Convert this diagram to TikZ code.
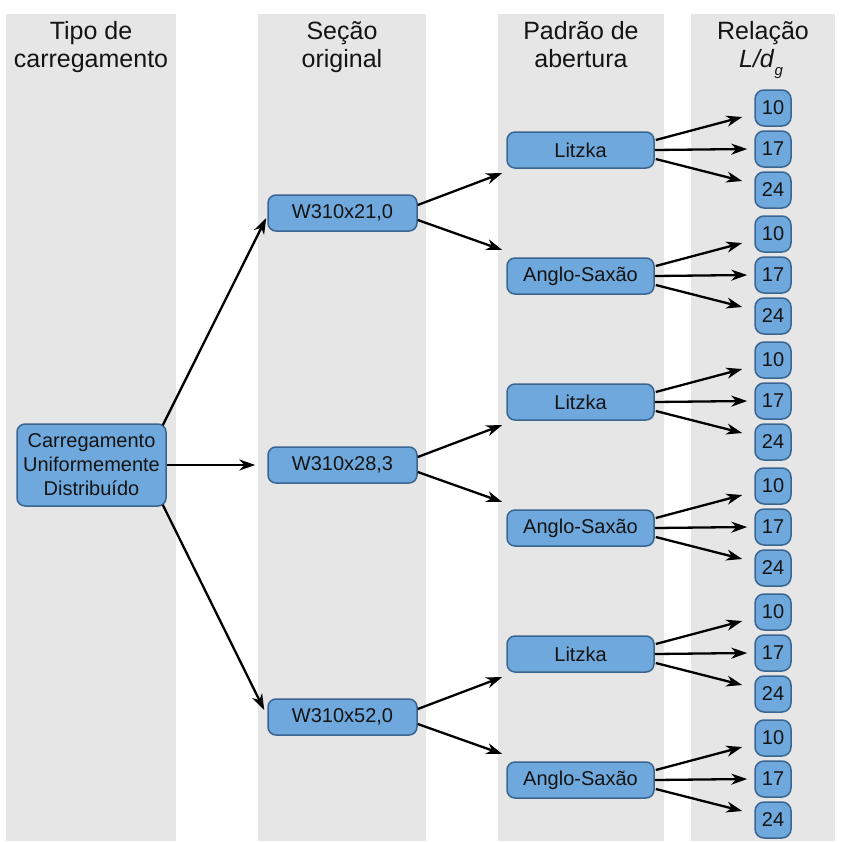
\documentclass[tikz,border=0pt]{standalone}
\usepackage{fontspec}
\setmainfont{Liberation Sans}
\usetikzlibrary{arrows.meta,calc}
\definecolor{colbg}{HTML}{E6E6E6}
\definecolor{boxfill}{HTML}{6FA8DC}
\definecolor{boxedge}{HTML}{3A6590}
\definecolor{ink}{HTML}{141414}

\begin{document}
\begin{tikzpicture}[x=1pt,y=-1pt,
  box/.style={draw=boxedge, fill=boxfill, line width=1.5pt, rounded corners=8pt,
    inner sep=0pt, minimum width=147pt, minimum height=36pt,
    font=\fontsize{20}{24}\selectfont, text=ink, align=center},
  numbox/.style={box, minimum width=36pt, rounded corners=9pt},
  head/.style={anchor=base, font=\fontsize{25}{29}\selectfont, text=ink},
  arr/.style={-{Stealth[length=16pt,width=11pt,inset=5pt]}, line width=2.3pt, draw=black}
]
\useasboundingbox (0,0) rectangle (846,841);

% column backgrounds
\fill[colbg] (6,14) rectangle (176,841);
\fill[colbg] (258,14) rectangle (426,841);
\fill[colbg] (498,14) rectangle (664,841);
\fill[colbg] (691,14) rectangle (835,841);

% column headings
\node[head] (h1a) at (91,39) {Tipo de};
\node[head] (h1b) at (91,67) {carregamento};
\node[head] (h2a) at (342,39) {Seção};
\node[head] (h2b) at (342,67) {original};
\node[head] (h3a) at (581,39) {Padrão de};
\node[head] (h3b) at (581,67) {abertura};
\node[head] (h4a) at (763,39) {Relação};
\node[head] (h4b) at (761,67) {\textit{L/d}\raisebox{-0.32em}{\fontsize{15}{15}\selectfont\textit{g}}};

% load type
\node[box, minimum width=149pt, minimum height=82pt] (c) at (91.5,465)
  {Carregamento\\Uniformemente\\Distribuído};

% original sections
\node[box, minimum width=149pt] (w1) at (342.5,213) {W310x21,0};
\node[box, minimum width=149pt] (w2) at (342.5,465) {W310x28,3};
\node[box, minimum width=149pt] (w3) at (342.5,717) {W310x52,0};

% opening patterns
\node[box] (p1) at (580.5,150) {Litzka};
\node[box] (p2) at (580.5,276) {Anglo-Saxão};
\node[box] (p3) at (580.5,402) {Litzka};
\node[box] (p4) at (580.5,528) {Anglo-Saxão};
\node[box] (p5) at (580.5,654) {Litzka};
\node[box] (p6) at (580.5,780) {Anglo-Saxão};

% L/dg ratios and their arrows
\foreach \i in {1,...,6} {
  \path (p\i) ++(192.5,-42) node[numbox] (n\i-a) {10};
  \path (p\i) ++(192.5,-1)  node[numbox] (n\i-b) {17};
  \path (p\i) ++(192.5,40)  node[numbox] (n\i-c) {24};
  \draw[arr] ($(p\i.east)+(1,-10)$) -- ($(n\i-a.west)+(-12,9)$);
  \draw[arr] (p\i.east) -- ($(n\i-b.west)+(-7,0)$);
  \draw[arr] ($(p\i.east)+(1,9)$) -- ($(n\i-c.west)+(-12,-9)$);
}

% sections to patterns
\foreach \w/\a/\b in {w1/p1/p2, w2/p3/p4, w3/p5/p6} {
  \draw[arr] ($(\w.east)+(0,-8)$) -- ($(\a.west)+(-4,23)$);
  \draw[arr] ($(\w.east)+(0,7)$) -- ($(\b.west)+(-4,-26)$);
}

% load type to sections
\draw[arr] ($(c.north east)+(-4,2)$) -- ($(w1.west)+(-1,5)$);
\draw[arr] (c.east) -- ($(w2.west)+(-12,0)$);
\draw[arr] ($(c.south east)+(-4,-2)$) -- ($(w3.west)+(-3,-7)$);
\end{tikzpicture}
\end{document}
